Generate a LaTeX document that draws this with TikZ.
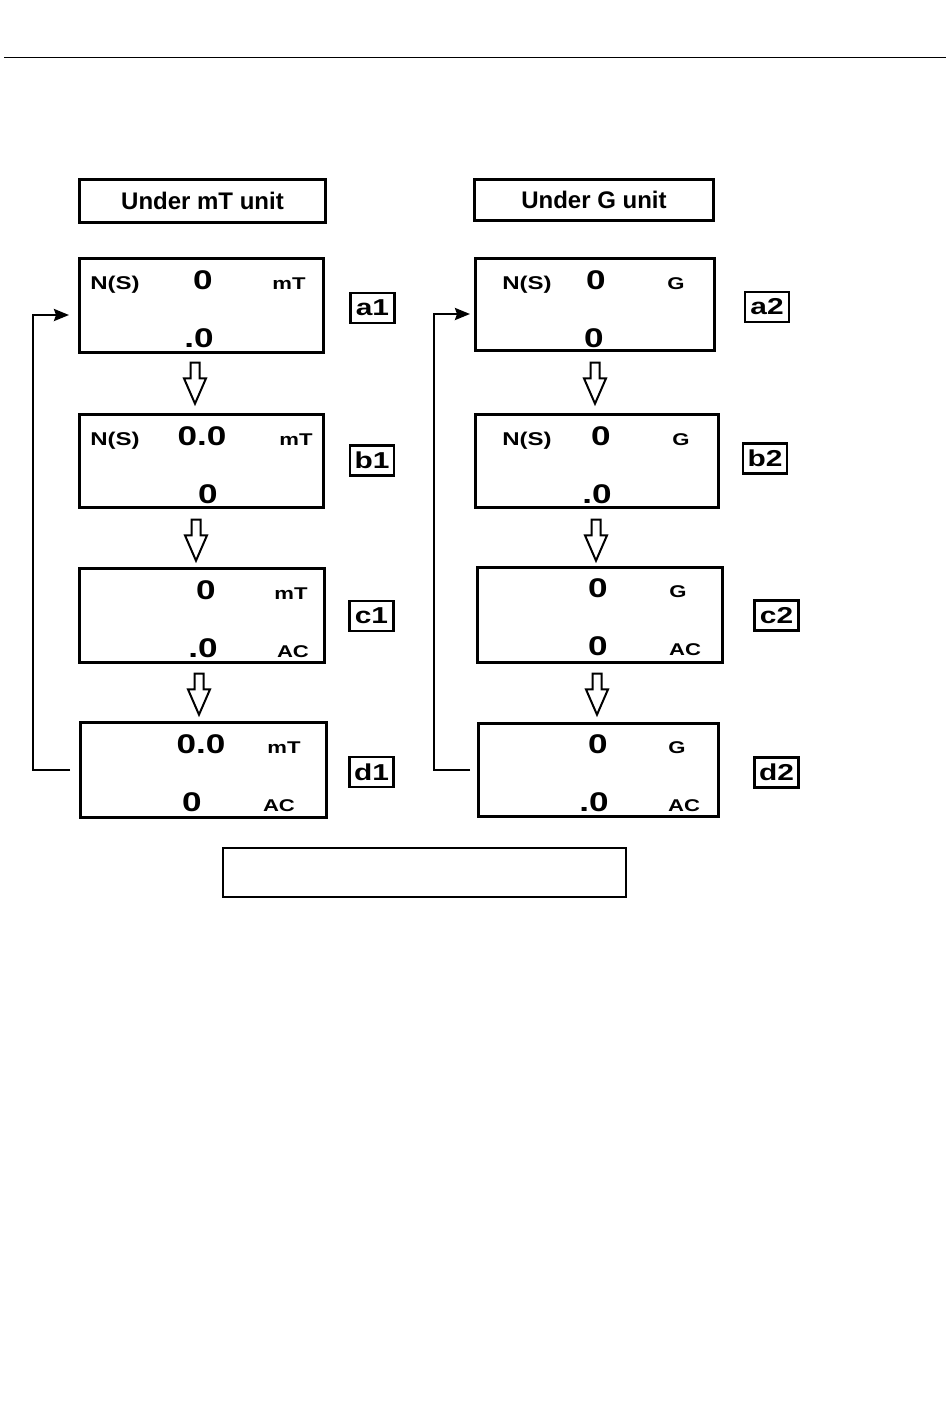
\documentclass[tikz,border=0pt]{standalone}
\usepackage{fontspec}
\setmainfont{Liberation Sans}
\newfontfamily\dispfont{Liberation Sans Bold}[FakeStretch=1.3]
\newfontfamily\headfont{Liberation Sans Bold}
\usepackage{tikz}
\usetikzlibrary{shapes.arrows,arrows.meta}

\newcommand{\fsz}[1]{\fontsize{#1}{#1}\selectfont}

\begin{document}
\begin{tikzpicture}[x=1pt, y=-1pt,
	display/.style = {draw, line width=3pt, inner sep=0pt},
	header/.style = {draw, line width=3pt, inner sep=0pt, font=\headfont\fsz{24}},
	tag/.style = {draw, line width=2.6pt, inner sep=0pt, minimum width=44pt, minimum height=30pt, font=\dispfont\fsz{23}},
	reading/.style = {anchor=base, inner sep=0pt, font=\dispfont\fsz{27}},
	unitlabel/.style = {anchor=base, inner sep=0pt, font=\dispfont\fsz{17}},
	pollabel/.style = {anchor=base, inner sep=0pt, font=\dispfont\fsz{18.5}},
	hollowarrow/.style = {single arrow, draw, line width=2pt, inner xsep=0pt, inner ysep=3.5pt, rotate=-90,
		minimum height=41pt, single arrow head extend=6.5pt, single arrow tip angle=47},
	loopback/.style = {line width=2.4pt, -{Stealth[length=15pt, width=12pt, inset=2pt]}}]
\useasboundingbox (0,0) rectangle (950,1401);
\draw[line width=1pt] (4,57) -- (946,57);

% headers
\node[header, minimum width=246pt, minimum height=43pt] (hmT) at (202.5,201) {Under mT unit};
\node[header, minimum width=239pt, minimum height=41pt] (hG) at (594,200) {Under G unit};

% mT column
\node[display, minimum width=244pt, minimum height=94pt] (a1) at (201.5,305.5) {};
\node[display, minimum width=244pt, minimum height=93pt] (b1) at (201.5,461) {};
\node[display, minimum width=245pt, minimum height=94pt] (c1) at (202,615.5) {};
\node[display, minimum width=246pt, minimum height=95pt] (d1) at (203.5,770) {};

\node[pollabel] (a1pol) at (115,289) {N(S)};
\node[reading] (a1hi) at (203,289) {0};
\node[unitlabel] (a1unit) at (289,289) {mT};
\node[reading] (a1lo) at (199,347) {.0};

\node[pollabel] (b1pol) at (115,445) {N(S)};
\node[reading] (b1hi) at (202,445) {0.0};
\node[unitlabel] (b1unit) at (296,445) {mT};
\node[reading] (b1lo) at (208,503) {0};

\node[reading] (c1hi) at (206,599) {0};
\node[unitlabel] (c1unit) at (291,599) {mT};
\node[reading] (c1lo) at (203,657) {.0};
\node[unitlabel] (c1ac) at (293,657) {AC};

\node[reading] (d1hi) at (201,753) {0.0};
\node[unitlabel] (d1unit) at (284,753) {mT};
\node[reading] (d1lo) at (192,811) {0};
\node[unitlabel] (d1ac) at (279,811) {AC};

\node[tag] (ta1) at (372.5,308) {a1};
\node[tag] (tb1) at (372,460.5) {b1};
\node[tag] (tc1) at (371.5,616) {c1};
\node[tag] (td1) at (371.5,772) {d1};

\node[hollowarrow] (ab1) at (195,378) {};
\node[hollowarrow] (bc1) at (196,535) {};
\node[hollowarrow] (cd1) at (199,689) {};

% G column
\node[display, minimum width=239pt, minimum height=92pt] (a2) at (595,304.5) {};
\node[display, minimum width=243pt, minimum height=93pt] (b2) at (597,461) {};
\node[display, minimum width=245pt, minimum height=95pt] (c2) at (600,615) {};
\node[display, minimum width=240pt, minimum height=93pt] (d2) at (598.5,770) {};

\node[pollabel] (a2pol) at (527,289) {N(S)};
\node[reading] (a2hi) at (596,289) {0};
\node[unitlabel] (a2unit) at (676,289) {G};
\node[reading] (a2lo) at (594,347) {0};

\node[pollabel] (b2pol) at (527,445) {N(S)};
\node[reading] (b2hi) at (601,445) {0};
\node[unitlabel] (b2unit) at (681,445) {G};
\node[reading] (b2lo) at (597,503) {.0};

\node[reading] (c2hi) at (598,597) {0};
\node[unitlabel] (c2unit) at (678,597) {G};
\node[reading] (c2lo) at (598,655) {0};
\node[unitlabel] (c2ac) at (685,655) {AC};

\node[reading] (d2hi) at (598,753) {0};
\node[unitlabel] (d2unit) at (677,753) {G};
\node[reading] (d2lo) at (594,811) {.0};
\node[unitlabel] (d2ac) at (684,811) {AC};

\node[tag] (ta2) at (767,307) {a2};
\node[tag] (tb2) at (765,458.5) {b2};
\node[tag] (tc2) at (776.5,615.5) {c2};
\node[tag] (td2) at (776.5,772.5) {d2};

\node[hollowarrow] (ab2) at (595,378) {};
\node[hollowarrow] (bc2) at (596,535) {};
\node[hollowarrow] (cd2) at (597,689) {};

% return lines
\coordinate (L1) at (33,315);
\coordinate (L2) at (69,315);
\draw[loopback] ([xshift=-9pt]d1.west) -| (L1) -- (L2);
\coordinate (R1) at (434,314);
\coordinate (R2) at (470,314);
\draw[loopback] ([xshift=-7pt]d2.west) -| (R1) -- (R2);

% empty box
\node[display, line width=2pt, minimum width=403pt, minimum height=49pt] (blank) at (424,872) {};
\end{tikzpicture}
\end{document}
